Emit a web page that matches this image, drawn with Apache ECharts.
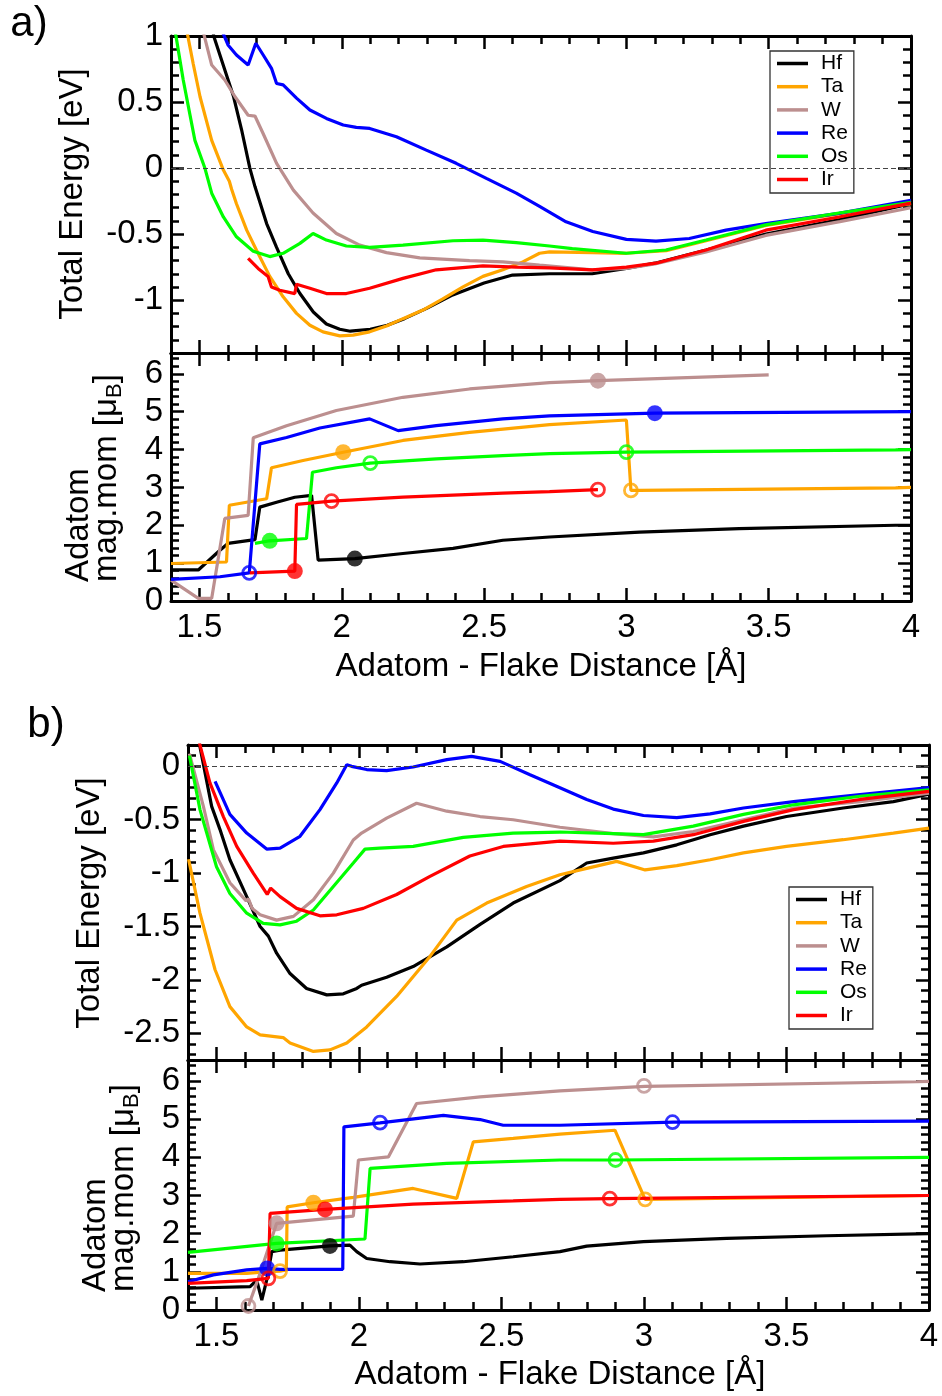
<!DOCTYPE html>
<html><head><meta charset="utf-8">
<script src="https://cdn.jsdelivr.net/npm/echarts@6/dist/echarts.min.js"></script>
<style>html,body{margin:0;padding:0;background:#fff}#c{width:942px;height:1396px}</style>
</head><body><div id="c"></div>
<script>
// ---------- categories / styling keys ----------
const names = ['Hf', 'Ta', 'W', 'Re', 'Os', 'Ir'];
const colors = ['#000000', '#FFA500', '#BC8F8F', '#0000FF', '#00FF00', '#FF0000'];

// ---------- tick labels ----------
const xMajor = [1.5, 2, 2.5, 3, 3.5, 4];
const yTicksAE = [-1, -0.5, 0, 0.5, 1];
const yTicksAM = [0, 1, 2, 3, 4, 5, 6];
const yTicksBE = [-2.5, -2, -1.5, -1, -0.5, 0];
const yTicksBM = [0, 1, 2, 3, 4, 5, 6];

// ---------- panel a) total energy ----------
const aE_Hf = [[1.545,1.08],[1.55,1.0],[1.62,0.54],[1.648,0.29],[1.677,0.0],[1.695,-0.14],[1.736,-0.42],[1.771,-0.60],[1.812,-0.80],[1.853,-0.95],[1.90,-1.09],[1.946,-1.18],[1.993,-1.22],[2.03,-1.235],[2.10,-1.22],[2.16,-1.19],[2.22,-1.14],[2.30,-1.06],[2.39,-0.96],[2.50,-0.87],[2.60,-0.81],[2.73,-0.80],[2.88,-0.80],[3.00,-0.76],[3.10,-0.72],[3.28,-0.62],[3.49,-0.50],[3.75,-0.39],[4.00,-0.27]];
const aE_Ta = [[1.45,1.08],[1.455,1.045],[1.478,0.79],[1.502,0.54],[1.543,0.21],[1.584,-0.015],[1.605,-0.10],[1.613,-0.16],[1.63,-0.27],[1.666,-0.47],[1.70,-0.62],[1.747,-0.82],[1.794,-0.975],[1.841,-1.10],[1.888,-1.19],[1.934,-1.24],[1.993,-1.27],[2.04,-1.265],[2.098,-1.24],[2.157,-1.195],[2.215,-1.14],[2.285,-1.075],[2.355,-0.99],[2.426,-0.90],[2.496,-0.82],[2.566,-0.77],[2.636,-0.71],[2.695,-0.645],[2.73,-0.635],[2.88,-0.64],[3.0,-0.645],[3.14,-0.625],[3.28,-0.55],[3.49,-0.435],[3.75,-0.345],[4.0,-0.27]];
const aE_W = [[1.51,1.06],[1.543,0.78],[1.589,0.667],[1.625,0.54],[1.671,0.40],[1.695,0.394],[1.724,0.26],[1.771,0.036],[1.83,-0.167],[1.899,-0.34],[1.981,-0.495],[2.063,-0.583],[2.157,-0.64],[2.274,-0.68],[2.449,-0.70],[2.566,-0.71],[2.695,-0.735],[2.88,-0.77],[3.0,-0.76],[3.1,-0.725],[3.28,-0.635],[3.49,-0.51],[3.75,-0.405],[4.0,-0.30]];
const aE_Re = [[1.575,1.06],[1.601,0.93],[1.63,0.856],[1.671,0.78],[1.698,0.945],[1.724,0.856],[1.753,0.755],[1.771,0.64],[1.794,0.63],[1.841,0.53],[1.888,0.44],[1.946,0.376],[2.005,0.326],[2.051,0.308],[2.098,0.30],[2.192,0.237],[2.297,0.136],[2.402,0.036],[2.508,-0.078],[2.613,-0.19],[2.695,-0.29],[2.788,-0.407],[2.882,-0.48],[3.0,-0.54],[3.104,-0.553],[3.221,-0.533],[3.35,-0.47],[3.49,-0.42],[3.747,-0.343],[4.0,-0.245]];
const aE_Os = [[1.41,1.08],[1.414,1.045],[1.443,0.667],[1.484,0.21],[1.519,0.0],[1.543,-0.19],[1.584,-0.37],[1.63,-0.52],[1.689,-0.63],[1.747,-0.67],[1.794,-0.645],[1.853,-0.57],[1.899,-0.495],[1.946,-0.545],[2.016,-0.59],[2.098,-0.60],[2.215,-0.583],[2.391,-0.55],[2.496,-0.545],[2.613,-0.565],[2.73,-0.59],[2.81,-0.61],[3.0,-0.645],[3.139,-0.62],[3.28,-0.545],[3.49,-0.43],[3.747,-0.34],[4.0,-0.26]];
const aE_Ir = [[1.671,-0.684],[1.706,-0.76],[1.741,-0.82],[1.753,-0.90],[1.782,-0.925],[1.835,-0.95],[1.841,-0.88],[1.888,-0.91],[1.946,-0.95],[2.016,-0.95],[2.098,-0.91],[2.215,-0.835],[2.332,-0.77],[2.496,-0.74],[2.613,-0.75],[2.73,-0.755],[2.88,-0.77],[3.0,-0.75],[3.104,-0.72],[3.28,-0.62],[3.49,-0.47],[3.747,-0.37],[4.0,-0.265]];

// ---------- panel a) adatom magnetic moment ----------
const aM_Hf = [[1.4,0.82],[1.496,0.82],[1.572,1.34],[1.60,1.52],[1.695,1.62],[1.712,2.48],[1.771,2.61],[1.835,2.74],[1.894,2.79],[1.917,1.08],[1.981,1.10],[2.046,1.12],[2.215,1.255],[2.391,1.39],[2.566,1.605],[2.73,1.69],[3.046,1.82],[3.396,1.91],[3.946,2.0],[4.0,2.0]];
const aM_Ta = [[1.4,0.99],[1.595,1.03],[1.605,2.53],[1.736,2.70],[1.753,3.52],[1.864,3.71],[2.005,3.93],[2.215,4.24],[2.449,4.455],[2.73,4.66],[3.0,4.78],[3.016,2.92],[3.046,2.92],[3.946,2.99],[4.0,3.0]];
const aM_W = [[1.4,0.55],[1.496,0.07],[1.543,0.07],[1.589,2.18],[1.671,2.26],[1.689,4.31],[1.806,4.63],[1.981,5.03],[2.215,5.38],[2.449,5.60],[2.73,5.77],[2.9,5.82],[3.5,5.97]];
const aM_Re = [[1.4,0.57],[1.572,0.64],[1.675,0.745],[1.712,4.15],[1.806,4.32],[1.923,4.57],[2.098,4.81],[2.198,4.50],[2.332,4.63],[2.566,4.81],[2.73,4.89],[3.1,4.96],[4.0,5.0]];
const aM_Os = [[1.695,1.52],[1.747,1.59],[1.876,1.65],[1.897,3.40],[1.981,3.52],[2.1,3.64],[2.332,3.755],[2.566,3.84],[2.73,3.89],[3.0,3.93],[3.946,3.99],[4.0,4.0]];
const aM_Ir = [[1.677,0.745],[1.835,0.79],[1.841,2.55],[1.964,2.64],[2.215,2.745],[2.566,2.85],[2.73,2.89],[2.9,2.94]];
// markers (filled / open)
const aMk_filled = {Hf:[[2.046,1.12]], Ta:[[2.005,3.93]], W:[[2.9,5.82]], Re:[[3.1,4.96]], Os:[[1.747,1.59]], Ir:[[1.835,0.79]]};
const aMk_open = {Ta:[[3.016,2.92]], Re:[[1.675,0.745]], Os:[[2.1,3.64],[3.0,3.93]], Ir:[[1.964,2.64],[2.9,2.94]]};

// ---------- panel b) total energy ----------
const bE_Hf = [[1.44,0.21],[1.483,-0.375],[1.512,-0.59],[1.547,-0.875],[1.606,-1.22],[1.653,-1.50],[1.682,-1.59],[1.711,-1.75],[1.758,-1.94],[1.816,-2.08],[1.887,-2.14],[1.945,-2.13],[1.992,-2.08],[2.009,-2.05],[2.097,-1.975],[2.19,-1.875],[2.308,-1.69],[2.425,-1.48],[2.541,-1.28],[2.705,-1.07],[2.799,-0.905],[2.892,-0.86],[2.998,-0.81],[3.115,-0.735],[3.232,-0.64],[3.349,-0.56],[3.50,-0.47],[3.699,-0.39],[3.875,-0.33],[4.0,-0.26]];
const bE_Ta = [[1.402,-0.87],[1.442,-1.375],[1.495,-1.905],[1.547,-2.25],[1.606,-2.44],[1.653,-2.515],[1.734,-2.54],[1.758,-2.59],[1.84,-2.67],[1.898,-2.655],[1.957,-2.59],[2.027,-2.44],[2.132,-2.155],[2.249,-1.78],[2.343,-1.44],[2.448,-1.28],[2.588,-1.125],[2.705,-1.015],[2.799,-0.955],[2.904,-0.89],[3.004,-0.97],[3.115,-0.93],[3.232,-0.875],[3.349,-0.81],[3.5,-0.75],[3.699,-0.687],[3.875,-0.625],[4.0,-0.578]];
const bE_W = [[1.405,0.12],[1.454,-0.375],[1.489,-0.78],[1.547,-1.09],[1.604,-1.26],[1.612,-1.24],[1.625,-1.33],[1.653,-1.39],[1.711,-1.44],[1.77,-1.405],[1.84,-1.25],[1.91,-1.0],[1.98,-0.69],[2.009,-0.625],[2.097,-0.485],[2.202,-0.345],[2.308,-0.42],[2.425,-0.47],[2.541,-0.50],[2.705,-0.57],[2.892,-0.63],[3.033,-0.66],[3.173,-0.61],[3.349,-0.50],[3.525,-0.39],[3.758,-0.33],[4.0,-0.25]];
const bE_Re = [[1.495,-0.14],[1.547,-0.45],[1.606,-0.625],[1.676,-0.775],[1.723,-0.765],[1.793,-0.655],[1.863,-0.405],[1.922,-0.155],[1.957,0.016],[1.974,0.0],[2.027,-0.03],[2.097,-0.04],[2.19,-0.006],[2.308,0.063],[2.395,0.094],[2.495,0.047],[2.60,-0.078],[2.705,-0.20],[2.799,-0.31],[2.892,-0.40],[2.998,-0.46],[3.115,-0.48],[3.232,-0.445],[3.349,-0.39],[3.525,-0.33],[3.758,-0.265],[4.0,-0.20]];
const bE_Os = [[1.405,0.10],[1.442,-0.405],[1.50,-0.94],[1.547,-1.19],[1.606,-1.375],[1.664,-1.47],[1.723,-1.485],[1.781,-1.45],[1.84,-1.345],[1.91,-1.125],[1.98,-0.905],[2.021,-0.775],[2.073,-0.765],[2.19,-0.75],[2.366,-0.665],[2.541,-0.625],[2.705,-0.615],[2.892,-0.63],[2.998,-0.64],[3.173,-0.56],[3.349,-0.45],[3.525,-0.36],[3.758,-0.28],[4.0,-0.22]];
const bE_Ir = [[1.44,0.22],[1.477,-0.155],[1.524,-0.47],[1.571,-0.75],[1.629,-1.0],[1.678,-1.20],[1.69,-1.14],[1.723,-1.22],[1.781,-1.33],[1.863,-1.40],[1.922,-1.39],[2.015,-1.33],[2.132,-1.20],[2.249,-1.03],[2.389,-0.84],[2.506,-0.75],[2.705,-0.70],[2.892,-0.72],[3.033,-0.70],[3.173,-0.64],[3.349,-0.515],[3.525,-0.405],[3.758,-0.31],[4.0,-0.235]];

// ---------- panel b) adatom magnetic moment ----------
const bM_Hf = [[1.4,0.57],[1.618,0.61],[1.641,0.785],[1.659,0.26],[1.676,0.785],[1.694,1.53],[1.723,1.57],[1.898,1.68],[1.968,1.70],[1.992,1.53],[2.027,1.35],[2.109,1.265],[2.214,1.205],[2.366,1.265],[2.541,1.395],[2.705,1.53],[2.799,1.675],[2.998,1.79],[3.29,1.875],[3.641,1.945],[4.0,2.0]];
const bM_Ta = [[1.4,0.96],[1.606,0.96],[1.67,1.0],[1.723,1.02],[1.745,1.05],[1.748,2.70],[1.84,2.81],[1.98,2.95],[2.19,3.185],[2.343,2.925],[2.401,4.405],[2.541,4.495],[2.705,4.61],[2.898,4.71],[3.004,2.9],[3.5,2.95],[4.0,3.0]];
const bM_W = [[1.612,0.105],[1.653,0.96],[1.711,2.27],[1.98,2.46],[1.998,3.93],[2.103,4.01],[2.202,5.41],[2.425,5.585],[2.705,5.74],[3.004,5.86],[3.957,5.98],[4.0,5.99]];
const bM_Re = [[1.4,0.74],[1.489,0.92],[1.606,1.05],[1.678,1.09],[1.723,1.065],[1.943,1.065],[1.947,4.80],[2.074,4.905],[2.296,5.10],[2.425,4.99],[2.506,4.84],[2.705,4.84],[3.103,4.92],[4.0,4.95]];
const bM_Os = [[1.4,1.51],[1.711,1.745],[2.021,1.86],[2.039,3.71],[2.308,3.84],[2.705,3.93],[2.904,3.93],[4.0,4.0]];
const bM_Ir = [[1.4,0.70],[1.606,0.77],[1.682,0.83],[1.688,2.53],[1.881,2.635],[2.19,2.775],[2.541,2.86],[2.705,2.90],[2.88,2.92],[4.0,3.0]];
const bMk_filled = {Hf:[[1.898,1.68]], Ta:[[1.84,2.81]], W:[[1.711,2.27]], Re:[[1.678,1.09]], Os:[[1.711,1.745]], Ir:[[1.881,2.635]]};
const bMk_open = {Ta:[[1.723,1.02],[3.004,2.9]], W:[[1.612,0.105],[3.0,5.87]], Re:[[2.074,4.91],[3.1,4.92]], Os:[[2.9,3.93]], Ir:[[1.682,0.83],[2.88,2.92]]};

// ---------- assembly ----------
const FONT = '"Liberation Sans", Arial, Helvetica, sans-serif';
const panels = [
  {lines: [aE_Hf, aE_Ta, aE_W, aE_Re, aE_Os, aE_Ir], y: [-1.4, 1], yTicks: yTicksAE, yMinor: [-1.4, 1, 0.1], xLabels: false, zero: true},
  {lines: [aM_Hf, aM_Ta, aM_W, aM_Re, aM_Os, aM_Ir], y: [0, 6.55], yTicks: yTicksAM, yMinor: [0, 6.4, 0.2], xLabels: true, filled: aMk_filled, open: aMk_open},
  {lines: [bE_Hf, bE_Ta, bE_W, bE_Re, bE_Os, bE_Ir], y: [-2.75, 0.2], yTicks: yTicksBE, yMinor: [-2.7, 0.2, 0.1], xLabels: false, zero: true},
  {lines: [bM_Hf, bM_Ta, bM_W, bM_Re, bM_Os, bM_Ir], y: [0, 6.55], yTicks: yTicksBM, yMinor: [0, 6.4, 0.2], xLabels: true, filled: bMk_filled, open: bMk_open}
];
const grids = [
  {left: 171, top: 36, width: 740, height: 317},
  {left: 171, top: 353, width: 740, height: 248},
  {left: 188, top: 745, width: 741, height: 315},
  {left: 188, top: 1060, width: 741, height: 250}
];
function steps(a, b, s) { const out = []; const n = Math.round((b - a) / s); for (let i = 0; i <= n; i++) out.push(+(a + i * s).toFixed(4)); return out; }
const xMinor = steps(1.4, 4, 0.1);
const lblStyle = {color: '#000', fontSize: 33, fontFamily: FONT};

function axisSet(dim, gi, min, max, major, minor, showLabels) {
  const pos = dim === 'x' ? ['bottom', 'top'] : ['left', 'right'];
  const base = {type: 'value', gridIndex: gi, min: min, max: max, splitLine: {show: false}, minorTick: {show: false}, minorSplitLine: {show: false}, silent: true};
  const out = [];
  pos.forEach((p, k) => {
    out.push(Object.assign({}, base, {
      position: p,
      axisLine: {show: true, onZero: false, lineStyle: {color: '#000', width: 3}},
      axisTick: {show: true, inside: true, length: 13, customValues: major, lineStyle: {color: '#000', width: 2.5}},
      axisLabel: (k === 0 && showLabels) ? Object.assign({show: true, customValues: major, margin: dim === 'x' ? 10 : 8}, lblStyle) : {show: false}
    }));
    out.push(Object.assign({}, base, {
      position: p,
      axisLine: {show: false, onZero: false},
      axisTick: {show: true, inside: true, length: 8, customValues: minor, lineStyle: {color: '#000', width: 2.5}},
      axisLabel: {show: false}
    }));
  });
  return out;
}

const xAxis = [], yAxis = [], series = [];
panels.forEach((pn, gi) => {
  xAxis.push(...axisSet('x', gi, 1.4, 4, xMajor, xMinor, pn.xLabels));
  yAxis.push(...axisSet('y', gi, pn.y[0], pn.y[1], pn.yTicks, steps(pn.yMinor[0], pn.yMinor[1], pn.yMinor[2]), true));
  pn.lines.forEach((d, i) => {
    const s = {
      type: 'line', name: names[i], data: d, xAxisIndex: gi * 4, yAxisIndex: gi * 4,
      showSymbol: false, symbol: 'none', clip: true, silent: true, z: 2,
      lineStyle: {color: colors[i], width: 3.2}, itemStyle: {color: colors[i]}
    };
    if (pn.zero && i === 0) {
      s.markLine = {silent: true, symbol: ['none', 'none'], label: {show: false},
        lineStyle: {type: [5, 3], color: '#444', width: 1.2}, data: [{yAxis: 0}]};
    }
    series.push(s);
  });
  if (pn.filled) {
    names.forEach((nm, i) => {
      if (pn.open[nm]) series.push({type: 'scatter', name: nm + ' open', data: pn.open[nm], xAxisIndex: gi * 4, yAxisIndex: gi * 4,
        symbol: 'circle', symbolSize: 13, silent: true, z: 4,
        itemStyle: {color: 'rgba(0,0,0,0)', borderColor: colors[i], borderWidth: 2.8}});
      if (pn.filled[nm]) series.push({type: 'scatter', name: nm + ' filled', data: pn.filled[nm], xAxisIndex: gi * 4, yAxisIndex: gi * 4,
        symbol: 'circle', symbolSize: 16, silent: true, z: 3, itemStyle: {color: colors[i]}});
    });
  }
});

const legendBase = {
  data: names, orient: 'vertical', selectedMode: false, icon: 'rect', itemWidth: 31, itemHeight: 3.5, itemGap: 2.2,
  padding: [2, 6, 3, 7], borderColor: '#333', borderWidth: 1.3, backgroundColor: '#fff',
  textStyle: {color: '#000', fontSize: 21, fontFamily: FONT, lineHeight: 20, padding: [0, 0, 0, 8]}
};
const legend = [
  Object.assign({}, legendBase, {left: 770, top: 51}),
  Object.assign({}, legendBase, {left: 789, top: 887})
];

function txt(text, x, y, size, rot, align, rich) {
  const st = {text: text, font: size + 'px ' + FONT, fill: '#000', textAlign: align || 'center', textVerticalAlign: 'middle', align: align || 'center', verticalAlign: 'middle'};
  if (rich) st.rich = rich;
  return {type: 'text', x: x, y: y, rotation: rot ? Math.PI / 2 : 0, style: st, silent: true};
}
const subRich = {sub: {fontSize: 22, fontFamily: FONT, fill: '#000', lineHeight: 22, padding: [16, 0, 0, 0]}};
const graphic = [
  txt('a)', 29, 24, 42, false),
  txt('b)', 46, 725, 42, false),
  txt('Total Energy [eV]', 73, 194, 33, true),
  txt('Adatom', 79, 582, 33, true, 'left'),
  txt('mag.mom [μ{sub|B}]', 107, 582, 33, true, 'left', subRich),
  txt('Adatom - Flake Distance [Å]', 541, 667, 33, false),
  txt('Total Energy [eV]', 90, 903, 33, true),
  txt('Adatom', 96, 1292, 33, true, 'left'),
  txt('mag.mom [μ{sub|B}]', 124, 1292, 33, true, 'left', subRich),
  txt('Adatom - Flake Distance [Å]', 560, 1375, 33, false)
];

const chart = echarts.init(document.getElementById('c'));
chart.setOption({
  animation: false, backgroundColor: '#fff',
  grid: grids, xAxis: xAxis, yAxis: yAxis, series: series, legend: legend, graphic: graphic
});
</script></body></html>
